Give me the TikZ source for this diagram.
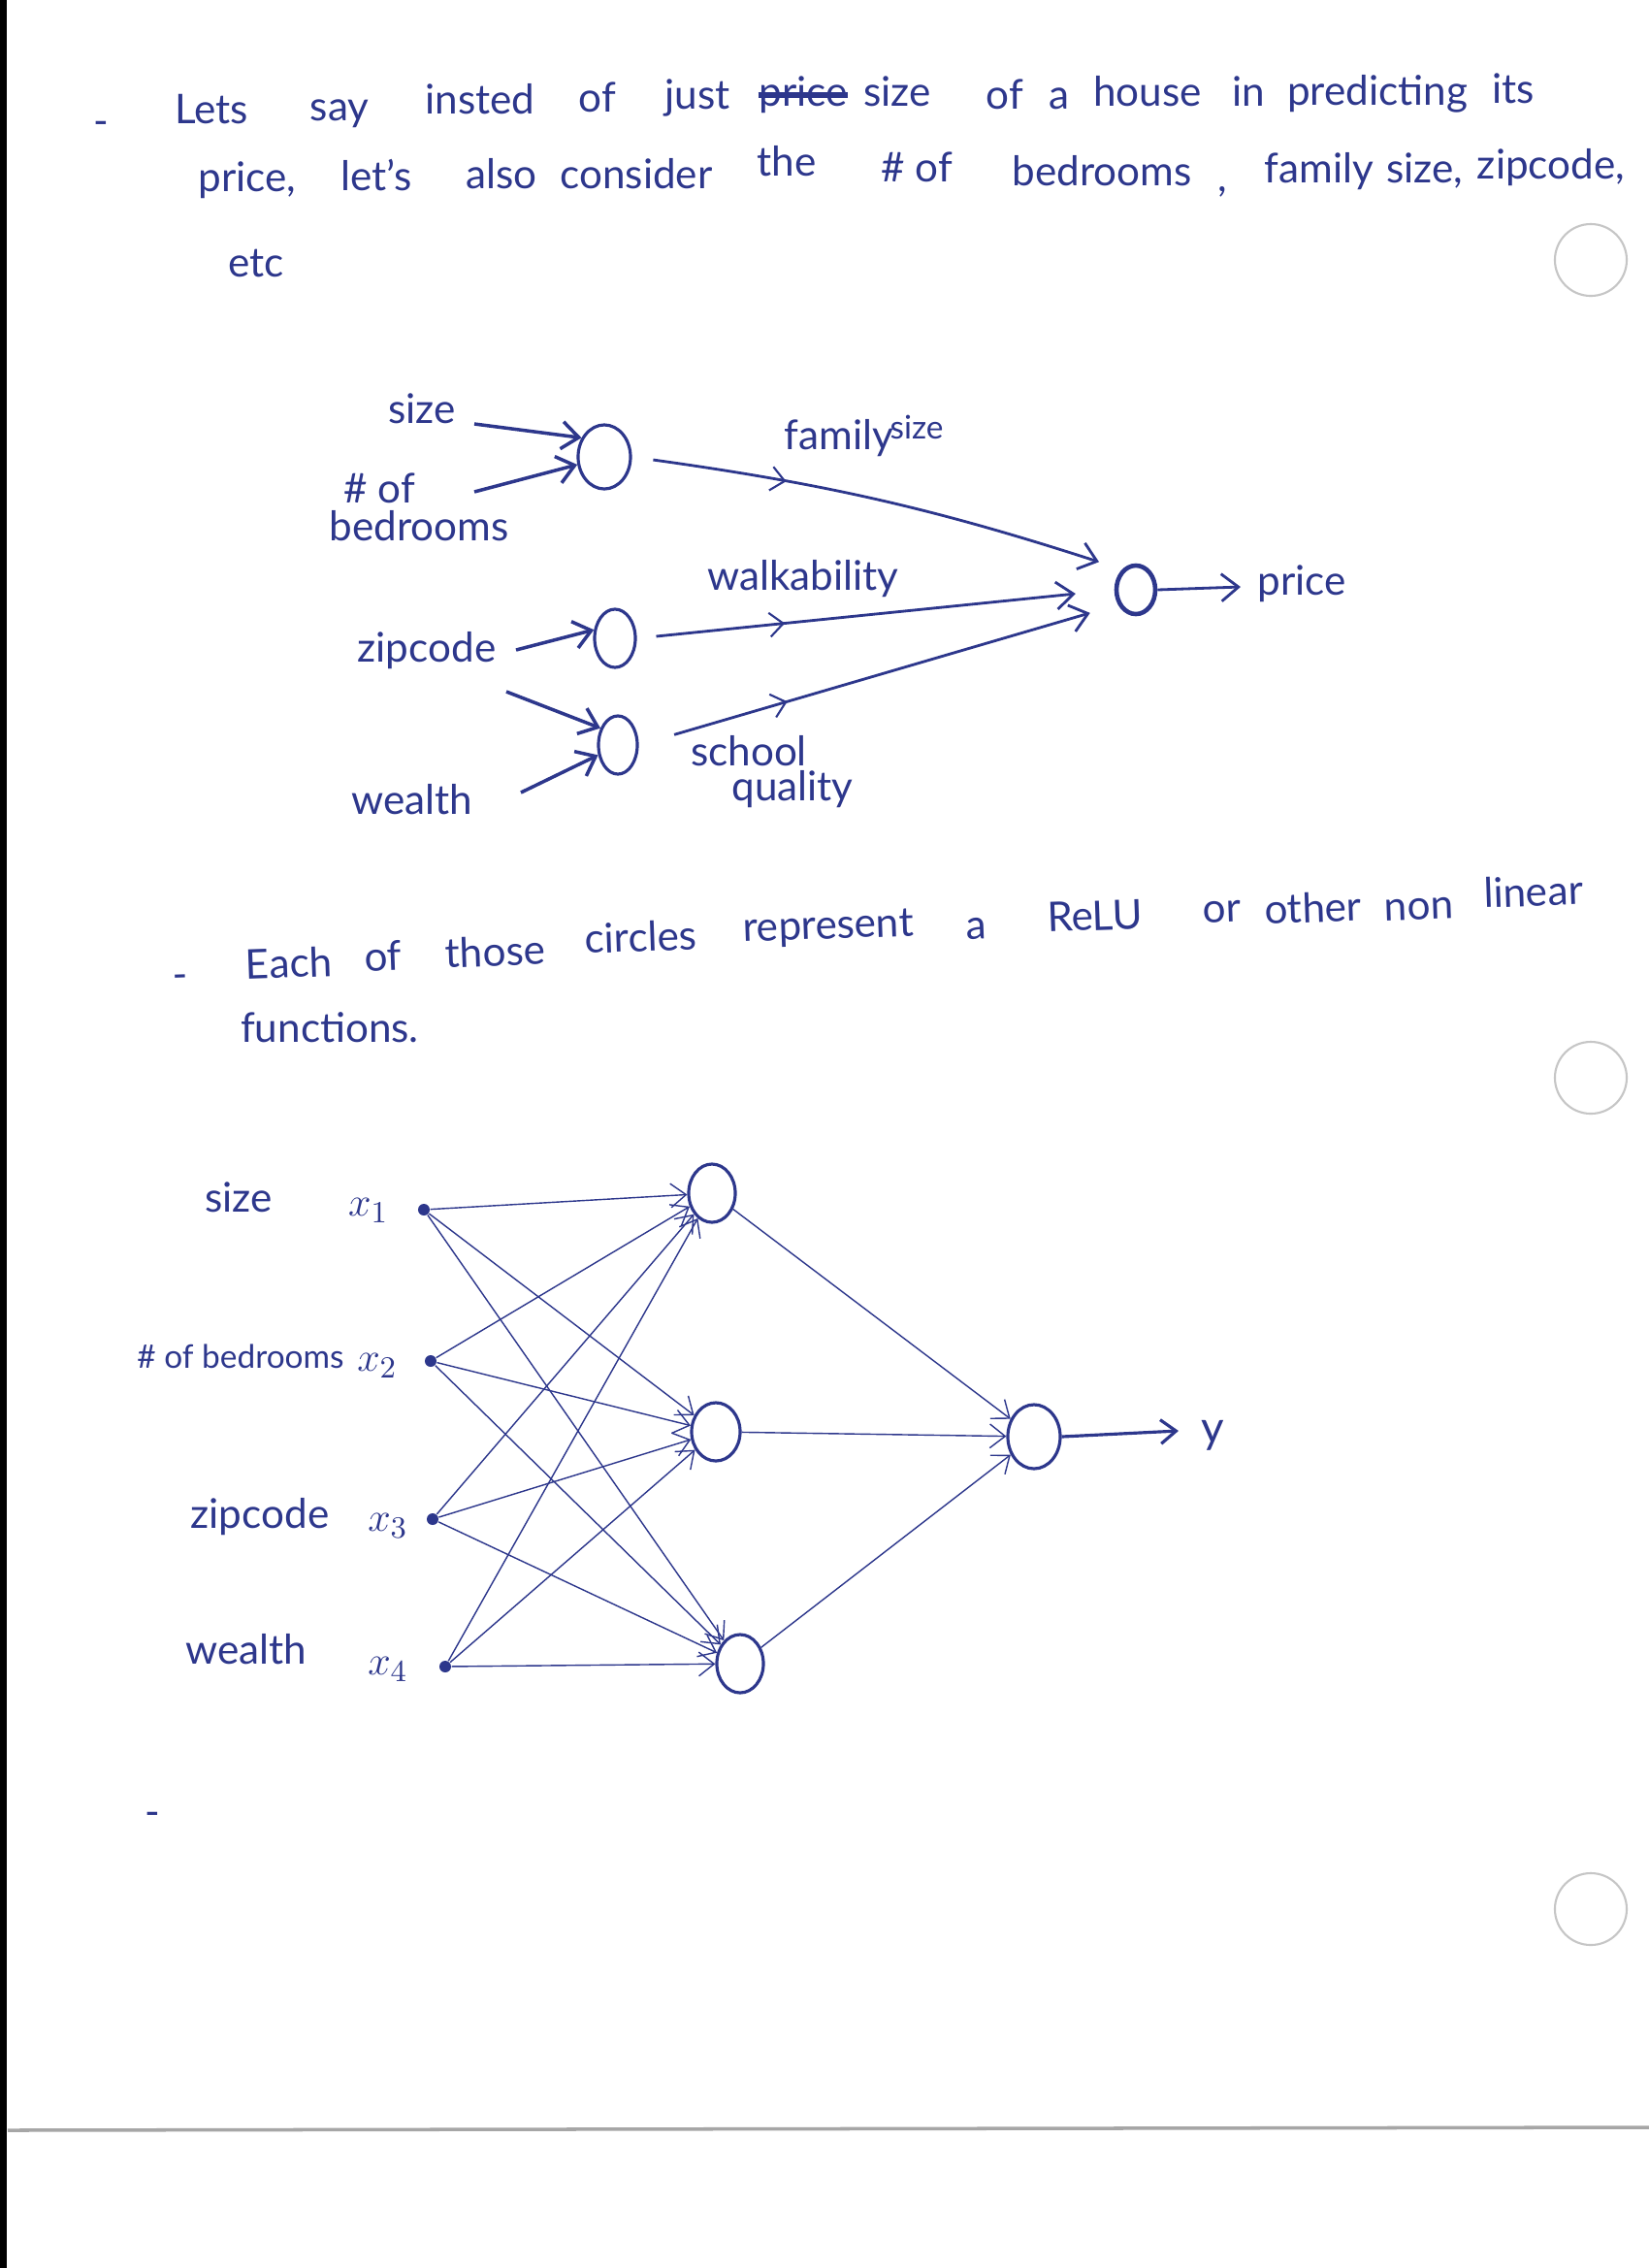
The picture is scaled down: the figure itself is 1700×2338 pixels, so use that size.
\documentclass[tikz,border=0pt]{standalone}
\usepackage{fontspec}
\setmainfont{Lato}
\usetikzlibrary{arrows.meta,shapes.geometric,decorations.markings}
\definecolor{ink}{RGB}{45,55,140}
\begin{document}
\begin{tikzpicture}[x=0.01cm,y=-0.01cm,
  txt/.style={text=ink, font=\fontsize{12}{14}\selectfont, inner sep=0pt, anchor=mid},
  smtxt/.style={text=ink, font=\fontsize{9.5}{11}\selectfont, inner sep=0pt, anchor=mid},
  para/.style={txt, rotate=2},
  neu/.style={draw=ink, ellipse, line width=0.9pt, inner sep=0pt},
  thickarr/.style={draw=ink, line width=1pt, -{Straight Barb[length=5pt,width=8pt]}},
  thinarr/.style={draw=ink, line width=0.4pt, -{Straight Barb[length=4.5pt,width=7pt]}},
  midarr/.style={postaction={decorate}, decoration={markings, mark=at position 0.31 with {\arrow[ink,line width=0.6pt]{Straight Barb[length=4pt,width=7pt]}}}},
  inpt/.style={circle, fill=ink, inner sep=0pt, minimum size=0.12cm}
]
\useasboundingbox (0,0) rectangle (1700,2338);
\fill[white] (0,0) rectangle (1700,2338);
% scan artefacts
\fill[black] (0,0) rectangle (7,2338);
\draw[gray!70, line width=1pt] (8,2196) -- (1700,2193);
\draw[gray!45, line width=0.6pt] (1640,268) circle [radius=0.37cm];
\draw[gray!45, line width=0.6pt] (1640,1111) circle [radius=0.37cm];
\draw[gray!45, line width=0.6pt] (1640,1968) circle [radius=0.37cm];

% ---- paragraph 1
\node[txt] (d1) at (104,131) {-};
\node[txt] (w1) at (218,119) {Lets};
\node[txt] (w2) at (350,116) {say};
\node[txt] (w3) at (495,109) {insted};
\node[txt] (w4) at (616,107) {of};
\node[txt] (w5) at (719,104) {just};
\node[txt] (w6) at (828,101) {price};
\draw[ink, line width=1.6pt] (w6.west) -- (w6.east);
\node[txt] (w7) at (925,101) {size};
\node[txt] (w8) at (1036,104) {of};
\node[txt] (w9) at (1092,104) {a};
\node[txt] (w10) at (1183,101) {house};
\node[txt] (w11) at (1287,101) {in};
\node[txt] (w12) at (1420,100) {predicting};
\node[txt] (w13) at (1560,98) {its};
\node[txt] (v1) at (255,189) {price,};
\node[txt] (v2) at (388,188) {let's};
\node[txt] (v3) at (517,186) {also};
\node[txt] (v4) at (656,186) {consider};
\node[txt] (v5) at (811,173) {the};
\node[txt] (v6) at (945,179) {\# of};
\node[txt] (v7) at (1136,183) {bedrooms};
\node[txt] (v8) at (1260,189) {,};
\node[txt] (v9) at (1360,180) {family};
\node[txt] (v10) at (1469,180) {size,};
\node[txt] (v11) at (1599,176) {zipcode,};
\node[txt] (v12) at (264,277) {etc};

% ---- diagram 1
\node[txt] (lsize) at (435,428) {size};
\node[txt] (lof) at (391,510) {\# of};
\node[txt] (lbed) at (432,549) {bedrooms};
\node[txt] (lzip) at (440,674) {zipcode};
\node[txt] (lwealth) at (425,831) {wealth};
\node[neu, minimum width=0.54cm, minimum height=0.66cm] (c1) at (623,471) {};
\node[neu, minimum width=0.42cm, minimum height=0.60cm] (c2) at (634,658) {};
\node[neu, minimum width=0.40cm, minimum height=0.60cm] (c3) at (637,768) {};
\node[neu, minimum width=0.40cm, minimum height=0.50cm, line width=1.3pt] (o) at (1171,608) {};
\coordinate (sA) at (489,437);
\coordinate (sB) at (489,507);
\coordinate (sC) at (532,670);
\coordinate (sD) at (522,713);
\coordinate (sE) at (537,817);
\coordinate (pe) at (1279,605);
\draw[thickarr] (sA) -- (c1.140);
\draw[thickarr] (sB) -- (c1.196);
\draw[thickarr] (sC) -- (c2.158);
\draw[thickarr] (sD) -- (c3.136);
\draw[thickarr] (sE) -- (c3.207);
\draw[thickarr, line width=0.8pt, midarr, shorten <=0.22cm, shorten >=0.25cm] (c1.east) to[bend left=5] (o.124);
\draw[thickarr, line width=0.8pt, midarr, shorten <=0.2cm, shorten >=0.4cm] (c2.east) -- (o.west);
\draw[thickarr, line width=0.8pt, midarr, shorten <=0.38cm, shorten >=0.3cm] (c3.east) -- (o.220);
\draw[thickarr, line width=0.8pt] (o.east) -- (pe);
\node[txt] (lprice) at (1342,605) {price};
\node[txt] (lfam) at (865,455) {family};
\node[smtxt] (lfsz) at (945,444) {size};
\node[txt] (lwalk) at (828,600) {walkability};
\node[txt] (lsch) at (772,781) {school};
\node[txt] (lqual) at (817,817) {quality};

% ---- paragraph 2
\node[para] (p0) at (186,1010) {-};
\node[para] (p1) at (298,999) {Each};
\node[para] (p2) at (395,992) {of};
\node[para] (p3) at (511,987) {those};
\node[para] (p4) at (661,972) {circles};
\node[para] (p5) at (854,959) {represent};
\node[para] (p6) at (1007,959) {a};
\node[para] (p7) at (1129,950) {ReLU};
\node[para] (p8) at (1260,942) {or};
\node[para] (p9) at (1354,942) {other};
\node[para] (p10) at (1463,939) {non};
\node[para] (p11) at (1581,925) {linear};
\node[txt] (p12) at (340,1066) {functions.};

% ---- diagram 2
\node[txt] (nsize) at (246,1241) {size};
\node[txt, font=\fontsize{13}{15}\selectfont] (nx1) at (380,1245) {$x_1$};
\node[smtxt] (nbed) at (248,1402) {\# of bedrooms};
\node[txt, font=\fontsize{13}{15}\selectfont] (nx2) at (389,1405) {$x_2$};
\node[txt] (nzip) at (268,1567) {zipcode};
\node[txt, font=\fontsize{13}{15}\selectfont] (nx3) at (400,1570) {$x_3$};
\node[txt] (nwea) at (254,1707) {wealth};
\node[txt, font=\fontsize{13}{15}\selectfont] (nx4) at (400,1718) {$x_4$};
\node[inpt] (i1) at (437,1247) {};
\node[inpt] (i2) at (444,1403) {};
\node[inpt] (i3) at (446,1566) {};
\node[inpt] (i4) at (459,1718) {};
\node[neu, minimum width=0.48cm, minimum height=0.60cm] (h1) at (734,1230) {};
\node[neu, minimum width=0.50cm, minimum height=0.60cm] (h2) at (738,1476) {};
\node[neu, minimum width=0.48cm, minimum height=0.60cm] (h3) at (763,1715) {};
\node[neu, minimum width=0.54cm, minimum height=0.66cm] (out) at (1066,1481) {};
\foreach \i in {1,2,3,4}{
  \foreach \h in {1,2,3}{
    \draw[thinarr] (i\i) -- (h\h);
  }
}
\draw[thinarr] (h1) -- (out);
\draw[thinarr] (h2) -- (out);
\draw[thinarr] (h3) -- (out);
\coordinate (ye) at (1215,1475);
\draw[thinarr, line width=0.9pt] (out.east) -- (ye);
\node[txt, font=\fontsize{13}{15}\selectfont] (ny) at (1250,1479) {y};
\node[txt] (dd) at (157,1874) {-};
\end{tikzpicture}
\end{document}
